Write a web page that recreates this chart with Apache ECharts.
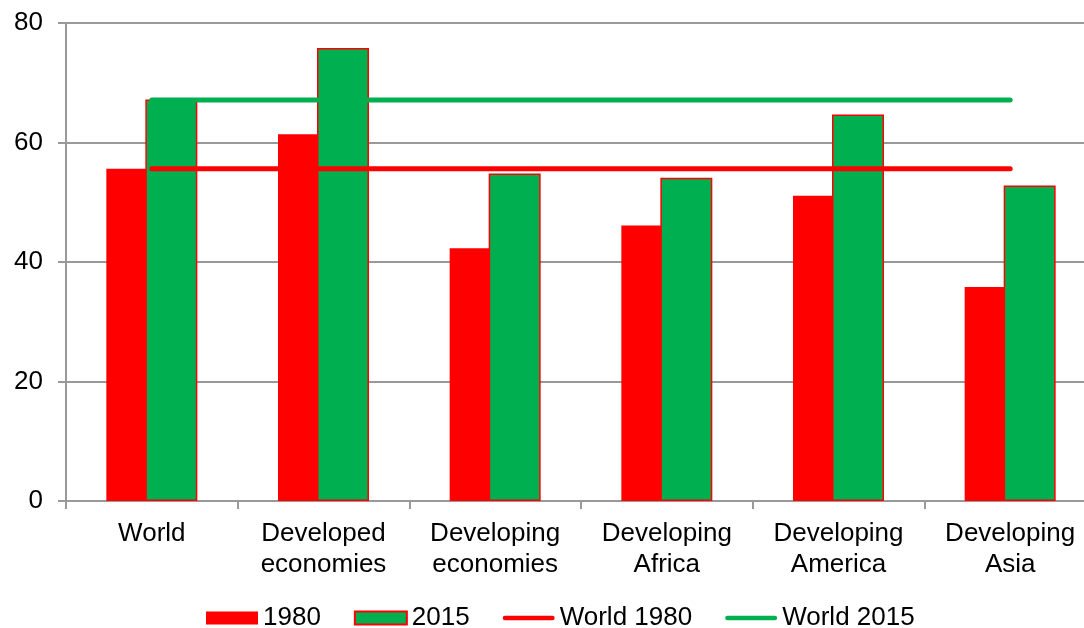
<!DOCTYPE html>
<html>
<head>
<meta charset="utf-8">
<script src="https://cdn.jsdelivr.net/npm/echarts@6/dist/echarts.min.js"></script>
<style>html,body{margin:0;padding:0;background:#fff}#c{width:1084px;height:628px}</style>
</head>
<body>
<div id="c"></div>
<script>
const categories = ['World', 'Developed\neconomies', 'Developing\neconomies', 'Developing\nAfrica', 'Developing\nAmerica', 'Developing\nAsia'];
const values1980 = [55.6, 61.4, 42.3, 46.1, 51.1, 35.8];
const values2015 = [67.2, 75.8, 54.8, 54.1, 64.7, 52.8];
const world1980Line = [55.6, 55.6, 55.6, 55.6, 55.6, 55.6];
const world2015Line = [67.1, 67.1, 67.1, 67.1, 67.1, 67.1];
const yTicks = { min: 0, max: 80, interval: 20 };

const FONT = 'Liberation Sans, Arial, sans-serif';
const RED = '#ff0000', GREEN = '#00b050', GRID = '#999999';
const LINE_ICON = 'path://M2.5,0 L53.5,0 A2.5,2.5 0 0 1 53.5,5 L2.5,5 A2.5,2.5 0 0 1 2.5,0 Z';

const chart = echarts.init(document.getElementById('c'));
chart.setOption({
  animation: false,
  textStyle: { fontFamily: FONT, color: '#000' },
  grid: { left: 66, width: 1030, top: 23, height: 478, containLabel: false, outerBoundsMode: 'none' },
  legend: {
    left: 201, top: 600,
    itemWidth: 52, itemHeight: 13, itemGap: 33,
    textStyle: { fontFamily: FONT, fontSize: 26, color: '#000' },
    data: [
      { name: '1980', icon: 'rect' },
      { name: '2015', icon: 'rect' },
      { name: 'World 1980', icon: LINE_ICON },
      { name: 'World 2015', icon: LINE_ICON }
    ]
  },
  xAxis: {
    type: 'category',
    data: categories,
    axisLine: { lineStyle: { color: GRID, width: 2 } },
    axisTick: { show: true, length: 8, lineStyle: { color: GRID, width: 2 } },
    axisLabel: { fontFamily: FONT, fontSize: 26, color: '#000', lineHeight: 31, margin: 17, interval: 0 }
  },
  yAxis: {
    type: 'value',
    min: yTicks.min, max: yTicks.max, interval: yTicks.interval,
    axisLine: { show: true, lineStyle: { color: GRID, width: 2 } },
    axisTick: { show: true, length: 8, lineStyle: { color: GRID, width: 2 } },
    splitLine: { lineStyle: { color: GRID, width: 2 } },
    axisLabel: { fontFamily: FONT, fontSize: 26, color: '#000', margin: 23 }
  },
  series: [
    { name: '1980', type: 'bar', data: values1980, barWidth: 52, barGap: '-25%',
      itemStyle: { color: RED } },
    { name: '2015', type: 'bar', data: values2015, barWidth: 52,
      itemStyle: { color: GREEN, borderColor: RED, borderWidth: 1.5 } },
    { name: 'World 1980', type: 'line', data: world1980Line, symbol: 'none',
      lineStyle: { color: RED, width: 5, cap: 'round' }, itemStyle: { color: RED } },
    { name: 'World 2015', type: 'line', data: world2015Line, symbol: 'none',
      lineStyle: { color: GREEN, width: 5, cap: 'round' }, itemStyle: { color: GREEN } }
  ]
});
</script>
</body>
</html>
